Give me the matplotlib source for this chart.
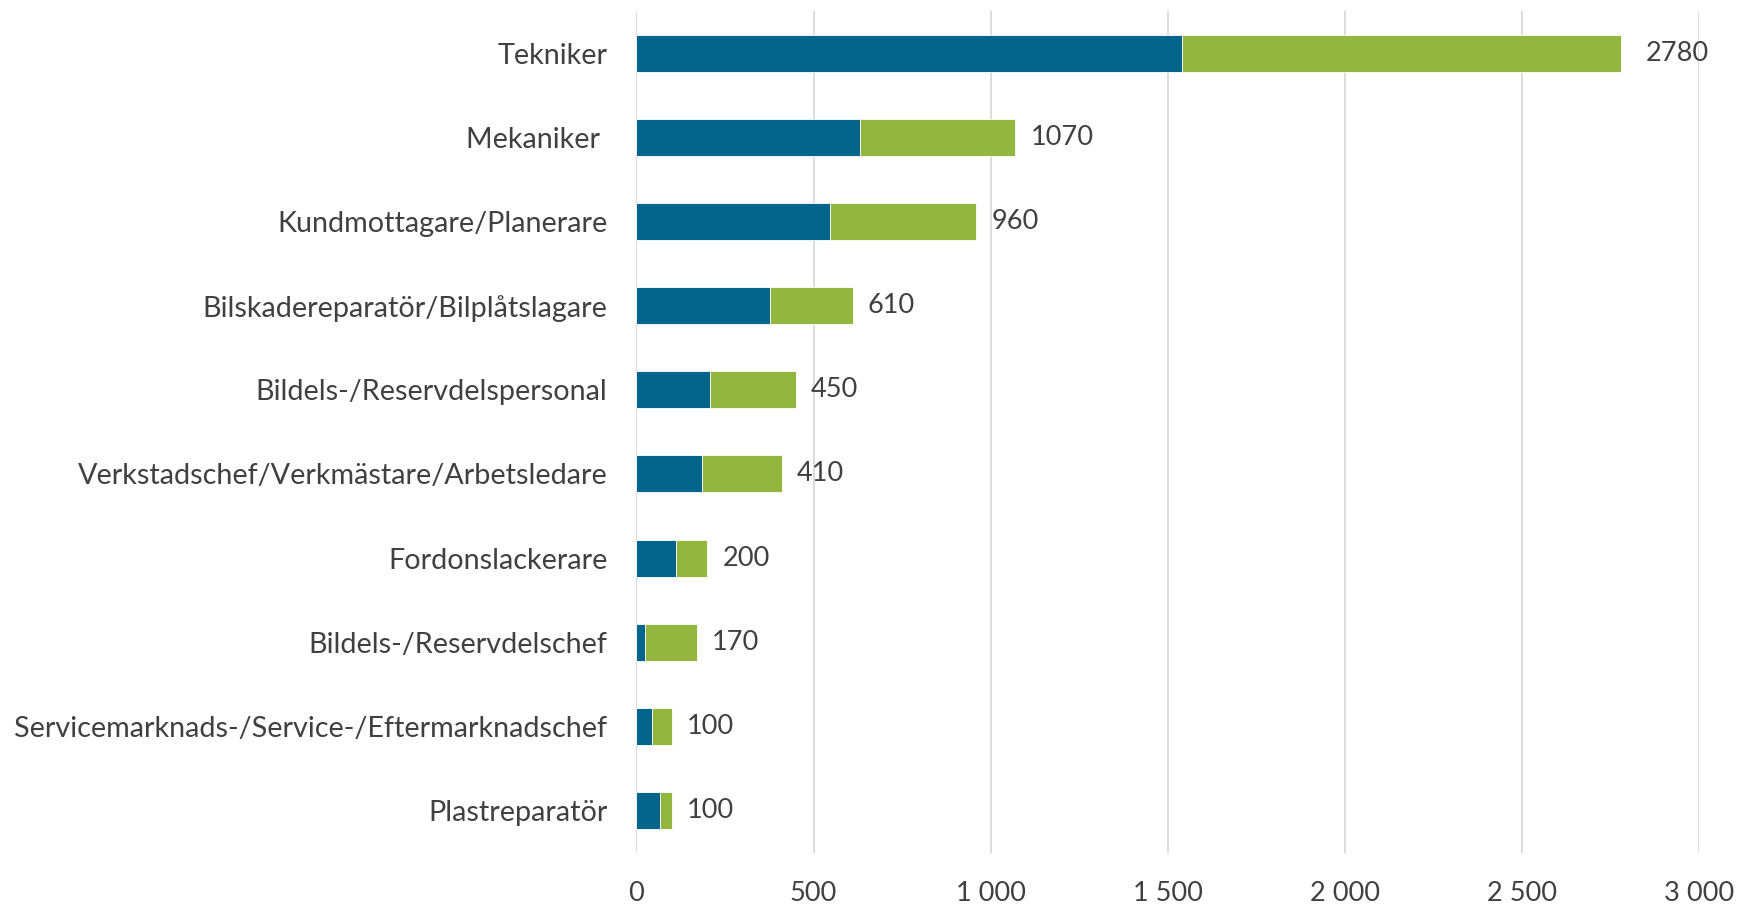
import matplotlib.pyplot as plt
from matplotlib.ticker import FuncFormatter

plt.rcParams['font.family'] = ['Lato', 'DejaVu Sans']

categories = ['Tekniker', 'Mekaniker ', 'Kundmottagare/Planerare',
              'Bilskadereparatör/Bilplåtslagare', 'Bildels-/Reservdelspersonal',
              'Verkstadschef/Verkmästare/Arbetsledare', 'Fordonslackerare',
              'Bildels-/Reservdelschef', 'Servicemarknads-/Service-/Eftermarknadschef',
              'Plastreparatör']
blue_vals = [1540, 632, 545, 378, 209, 186, 112, 24, 45, 67]
green_vals = [1240, 438, 415, 232, 241, 224, 88, 146, 55, 33]
totals = [2780, 1070, 960, 610, 450, 410, 200, 170, 100, 100]

blue = '#036589'
green = '#93B73E'
txt = '#404040'

fig = plt.figure(figsize=(17.39, 9.13), dpi=100)
ax = fig.add_axes([0.366, 0.066, 0.611, 0.922])

y = list(range(len(categories)))
ax.barh(y, blue_vals, height=0.44, color=blue, edgecolor='white', linewidth=0.6, zorder=3)
ax.barh(y, green_vals, left=blue_vals, height=0.44, color=green, edgecolor='white',
        linewidth=0.6, zorder=3)

for i, t in enumerate(totals):
    off = 18 if i == 0 else 11
    ax.annotate(str(t), (t, i), xytext=(off, 0), textcoords='offset points',
                va='center', ha='left', fontsize=19.5, color=txt)

ax.set_xlim(0, 3000)
ax.set_ylim(9.5, -0.5)
ax.set_yticks(y)
ax.set_yticklabels(categories)
ax.set_xticks(range(0, 3001, 500))
ax.xaxis.set_major_formatter(FuncFormatter(lambda v, p: f'{int(v):,}'.replace(',', ' ')))
ax.tick_params(axis='y', length=0, pad=21, labelsize=20.7, labelcolor=txt)
ax.tick_params(axis='x', length=0, pad=20, labelsize=19.5, labelcolor=txt)
ax.grid(axis='x', color='#D9D9D9', linewidth=1.3, zorder=0)
for s in ax.spines.values():
    s.set_visible(False)

fig.savefig('out.png', dpi=100)
